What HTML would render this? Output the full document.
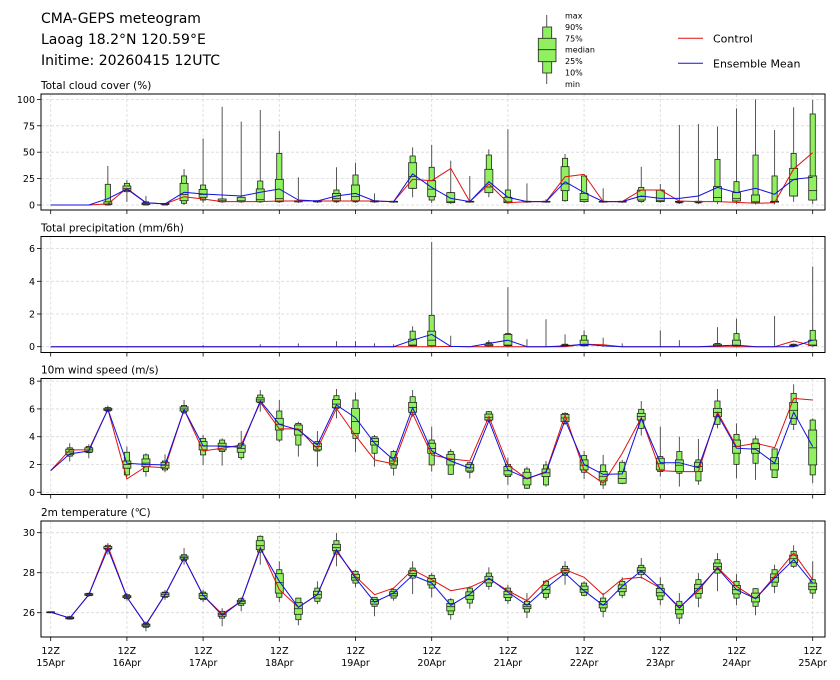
<!DOCTYPE html>
<html><head><meta charset="utf-8"><style>
body{margin:0;background:#fff;}
svg{display:block;font-family:"DejaVu Sans","Liberation Sans",sans-serif;}
</style></head><body>
<svg id="chart" width="840" height="680" viewBox="0 0 840 680" xmlns="http://www.w3.org/2000/svg">
<g font-size="14" fill="#000">
<text x="41" y="23">CMA-GEPS meteogram</text>
<text x="41" y="44">Laoag 18.2°N 120.59°E</text>
<text x="41" y="65">Initime: 20260415 12UTC</text>
</g>
<g>
<line x1="546.7" y1="15" x2="546.7" y2="84" stroke="#555" stroke-width="1"/>
<rect x="542.7" y="27" width="9" height="46" fill="#90f060" stroke="#222" stroke-width="0.8"/>
<rect x="538.3" y="38.3" width="17.7" height="23.4" fill="#90f060" stroke="#222" stroke-width="0.8"/>
<line x1="538.3" y1="49.7" x2="556" y2="49.7" stroke="#222" stroke-width="0.8"/>
<g font-size="8" fill="#000">
<text x="565" y="18.5">max</text><text x="565" y="29.9">90%</text><text x="565" y="41.3">75%</text>
<text x="565" y="52.7">median</text><text x="565" y="64.1">25%</text><text x="565" y="75.5">10%</text><text x="565" y="86.9">min</text>
</g></g>
<g font-size="11">
<line x1="678" y1="38.3" x2="703" y2="38.3" stroke="#e01010" stroke-width="1"/>
<text x="713" y="42.5">Control</text>
<line x1="678" y1="63.3" x2="703" y2="63.3" stroke="#1010e0" stroke-width="1"/>
<text x="713" y="67.5">Ensemble Mean</text>
</g>
<g id="panels"></g>
</svg>
<script>
const days = ["15Apr","16Apr","17Apr","18Apr","19Apr","20Apr","21Apr","22Apr","23Apr","24Apr","25Apr"];

const cloudCtrl=[0,0,0,1,15.8,2.2,1,7.9,5.7,3.2,3.2,3.2,3.8,3.8,3.8,3.8,3.8,3.8,3.2,24.3,23,34.7,3.2,19.9,2.2,3.2,3.2,26.8,29,3.2,3.2,14.2,14.2,3.8,3.2,3.2,2.5,1.6,2.2,34.1,49.6];
const cloudMean=[0,0,0,6,15.2,2.2,1,12,10.4,9.5,8.5,12,15.2,4.7,3.8,8.5,11,3.8,3.2,29.4,16.7,6.3,3.2,22.1,7.3,3.2,3.2,22.1,11.7,3.2,3.2,8.5,6.3,6.3,8.5,16.7,11.7,15.8,10.1,24.3,26.2];
const cloudMin=[0,0,0,0,3,0,0,0,2,2,2,2,2,2,2,2,2,2,2,7.3,2,1,2,7.3,1,2,2,3,2,2,2,2,2,1,1,1,1,0.5,0.5,3,1];
const cloudP10=[0,0,0,0,12.6,0,0,1.6,4.7,3,3,3,3,3,3,3,3,3,3,15.8,4.7,2.2,3,11.7,2.2,3,3,4.1,3.2,3,3,3.2,3.2,2,2,3.2,3.8,2.2,3,8.5,4.7];
const cloudP25=[0,0,0,0.5,13.6,0.5,0.5,4.1,7.3,3.2,3.2,3.2,3.2,3,3,4.1,4.1,3,3,15.8,7.9,2.2,3,11.7,2.2,3,3,13.6,3.2,3,3,4.7,3.2,3,3,3.2,3.8,2.2,3,8.5,4.7];
const cloudMed=[0,0,0,1,15.5,1.5,1,10,10,4,4,5,6,3.5,3.5,6,8,3.5,3.2,27,15,3,3.2,17,3,3.2,3.2,20,5,3.2,3.2,8,4,3.2,3.2,7,6,3,3.2,24,13.6];
const cloudP75=[0,0,0,3,18,2,1.5,20.5,14.8,5.7,7.3,15.2,24.3,4,4,11,18.9,4,3.5,40,23,11.7,3.5,33.8,7.3,3.5,3.5,36.3,11,3.5,3.5,14,14,3.5,3.5,17.4,11.7,9.5,3.5,34.7,27.5];
const cloudP90=[0,0,0,19.6,20.5,3,1.5,27.5,18.9,5.7,7.3,22.7,48.9,4,4,14.2,28.4,4,3.5,46.4,35.7,11.7,3.5,47.3,14.2,3.5,3.5,44.2,27.5,3.5,3.5,16.7,14.2,3.5,3.5,43.2,22.1,47.3,27.5,48.9,86.2];
const cloudMax=[0,0,0,37,23.7,8.5,2,34,63,93,79,90,70,26.2,4,35.7,40,11,3.5,54.6,56.8,42,27.5,52.7,71.7,20.5,5.5,48.3,27.5,15.8,3.5,36.3,19.9,75.8,76.7,74.2,91.5,100,71,92.5,99.4];

const precCtrl=[0,0,0,0,0,0,0,0,0,0,0,0,0,0,0,0,0,0,0,0,0,0.02,0,0,0,0,0,0,0.15,0.12,0,0,0,0,0,0,0,0,0,0.35,0.06];
const precMean=[0,0,0,0,0,0,0,0,0,0,0,0,0,0,0,0,0,0,0,0.4,0.75,0.02,0,0.2,0.4,0,0,0.05,0.15,0.05,0,0,0,0,0,0.05,0.1,0,0,0,0.4];
const precMin=[0,0,0,0,0,0,0,0,0,0,0,0,0,0,0,0,0,0,0,0,0,0,0,0,0,0,0,0,0,0,0,0,0,0,0,0,0,0,0,0,0];
const precP10=[0,0,0,0,0,0,0,0,0,0,0,0,0,0,0,0,0,0,0,0.06,0.06,0,0,0.06,0.06,0,0,0.06,0.06,0,0,0,0,0,0,0.06,0.06,0,0,0.06,0.06];
const precP25=[0,0,0,0,0,0,0,0,0,0,0,0,0,0,0,0,0,0,0,0.06,0.06,0,0,0.06,0.06,0,0,0.06,0.06,0,0,0,0,0,0,0.06,0.06,0,0,0.06,0.06];
const precMed=[0,0,0,0,0,0,0,0,0,0,0,0,0,0,0,0,0,0,0,0.1,0.4,0,0,0.06,0.1,0,0,0.06,0.1,0,0,0,0,0,0,0.06,0.06,0,0,0.06,0.1];
const precP75=[0,0,0,0,0,0,0,0,0,0,0,0,0,0,0,0,0,0,0,0.46,0.95,0,0,0.15,0.75,0,0,0.1,0.4,0,0,0,0,0,0,0.15,0.4,0,0,0.1,0.4];
const precP90=[0,0,0,0,0,0,0,0,0,0,0,0,0,0,0,0,0,0,0,0.95,1.92,0,0,0.25,0.8,0,0,0.15,0.67,0,0,0,0,0,0,0.2,0.8,0,0,0.15,1.0];
const precMax=[0,0,0,0,0,0,0,0,0.1,0,0,0.15,0,0.2,0,0.34,0.34,0.2,0.15,1.25,6.4,0.67,0,0.4,3.64,0.46,1.68,0.75,1.0,0.55,0.2,0,1.0,0.4,0,1.2,1.72,0,1.88,0.2,4.9];

const windCtrl=[1.56,3.05,3.05,5.97,0.96,1.85,1.77,5.95,2.97,3.17,3.4,6.47,4.56,4.56,3.12,6.04,4.08,2.33,2.04,5.68,2.69,2.4,2.25,5.44,1.97,0.96,1.49,5.56,1.6,0.65,2.8,5.37,1.56,1.49,1.49,5.76,3.29,3.53,3.21,6.76,6.64];
const windMean=[1.56,2.76,2.97,5.97,2.09,2.0,1.97,5.95,3.33,3.33,3.24,6.57,4.89,4.48,3.4,6.28,5.37,3.53,2.33,6.09,2.97,2.25,1.73,5.16,1.61,1.0,1.44,5.2,2.0,1.29,1.32,5.32,2.13,2.13,1.77,5.61,3.17,3.1,2.09,5.76,3.29];
const windMin=[1.56,2.21,2.45,5.76,1.13,1.13,1.44,5.61,1.97,1.92,2.33,5.8,3.6,2.57,1.85,5.32,2.88,1.85,1.2,5.44,1.49,1.25,1.0,5.08,0.53,0.24,0.41,4.84,0.96,0.24,0.58,4.08,1.13,0.41,0.53,4.6,1.0,0.89,1.06,4.48,0.65];
const windP10=[1.56,2.6,2.85,5.85,1.25,1.49,1.61,5.75,2.69,2.93,2.49,6.45,3.76,3.4,2.97,6.04,3.88,2.81,1.73,5.61,1.97,1.29,1.44,5.13,1.13,0.29,0.53,4.96,1.44,0.53,0.65,4.6,1.49,1.37,0.82,4.89,2.01,2.09,1.06,4.89,1.25];
const windP25=[1.56,2.7,2.9,5.9,1.73,1.85,1.73,5.85,3.05,3.05,2.88,6.5,4.48,4.12,3.05,6.09,4.24,3.4,1.97,5.76,2.81,1.97,1.53,5.2,1.25,0.53,1.13,5.08,1.61,0.82,0.65,5.2,1.61,1.49,1.49,5.44,2.81,2.81,1.61,5.32,1.97];
const windMed=[1.56,2.9,3.05,5.97,2.0,2.1,1.95,6.0,3.35,3.3,3.15,6.65,4.9,4.5,3.3,6.35,5.1,3.65,2.25,6.1,3.15,2.35,1.75,5.4,1.55,1.0,1.4,5.35,1.95,1.15,1.0,5.45,2.05,1.95,1.85,5.75,3.3,3.15,2.05,5.9,3.2];
const windP75=[1.56,3.1,3.2,6.05,2.25,2.4,2.16,6.15,3.65,3.53,3.4,6.8,5.32,4.84,3.53,6.67,6.04,3.88,2.49,6.47,3.53,2.73,2.01,5.63,1.85,1.44,1.68,5.61,2.33,1.49,1.49,5.68,2.45,2.33,2.16,6.04,3.76,3.53,2.49,6.47,4.48];
const windP90=[1.56,3.2,3.3,6.1,2.88,2.69,2.25,6.25,3.88,3.76,3.53,7.0,5.85,4.96,3.65,6.95,6.64,4.0,2.93,6.88,3.76,2.93,2.13,5.8,2.01,1.68,1.97,5.68,2.64,1.97,2.16,5.97,2.57,2.93,2.33,6.57,4.17,3.84,3.12,7.12,5.2];
const windMax=[1.56,3.53,3.45,6.24,3.29,2.81,2.73,6.64,4.12,3.88,4.41,7.36,6.64,5.08,4.41,7.43,7.19,4.12,3.05,7.36,4.72,3.12,2.16,5.85,2.49,1.85,2.25,5.76,2.97,2.69,2.33,6.57,4.72,4.0,3.84,7.43,4.96,4.08,3.12,7.77,5.32];

const tempCtrl=[26.03,25.73,26.9,29.32,26.78,25.4,26.9,28.73,26.87,25.93,26.57,29.27,27.15,26.27,26.9,29.07,27.82,26.9,27.23,28.15,27.65,27.1,27.27,27.7,27.1,26.6,27.57,28.15,27.77,26.9,27.68,27.77,27.23,26.27,27.1,28.27,27.32,26.7,27.82,28.98,27.65];
const tempMean=[26.03,25.73,26.9,29.2,26.78,25.4,26.9,28.73,26.87,25.87,26.57,29.2,27.57,26.27,26.9,29.15,27.73,26.53,26.98,27.87,27.48,26.37,26.93,27.73,27.03,26.37,27.23,27.98,27.1,26.37,27.32,28.1,27.23,26.23,27.2,28.23,27.15,26.7,27.73,28.65,27.48];
const tempMin=[26.0,25.65,26.8,28.9,26.6,25.07,26.65,28.4,26.53,25.32,26.07,28.4,26.53,25.37,26.43,28.32,27.27,25.82,26.6,26.93,26.77,25.65,26.2,27.15,26.43,25.73,26.65,27.4,26.82,25.77,26.73,27.7,26.37,25.43,26.27,27.07,26.37,25.87,26.98,28.23,26.7];
const tempP10=[26.0,25.68,26.85,29.13,26.7,25.27,26.77,28.6,26.65,25.73,26.37,29.03,26.77,25.65,26.57,28.93,27.48,26.32,26.73,27.73,27.23,25.9,26.48,27.32,26.6,26.03,26.77,27.87,26.87,26.07,26.87,27.9,26.65,25.73,26.73,27.98,26.73,26.32,27.32,28.32,26.98];
const tempP25=[26.01,25.7,26.87,29.19,26.75,25.32,26.81,28.68,26.71,25.82,26.45,29.15,26.98,25.92,26.73,29.1,27.63,26.43,26.84,27.86,27.39,26.09,26.67,27.49,26.76,26.2,26.97,28.0,27.02,26.24,27.05,28.02,26.84,25.94,26.96,28.15,26.94,26.54,27.53,28.5,27.15];
const tempMed=[26.03,25.73,26.9,29.22,26.8,25.38,26.9,28.75,26.85,25.9,26.55,29.35,27.5,26.2,26.9,29.25,27.75,26.55,26.95,27.95,27.55,26.3,26.85,27.65,26.9,26.3,27.15,28.1,27.15,26.4,27.2,28.12,27.0,26.15,27.2,28.3,27.15,26.75,27.75,28.7,27.3];
const tempP75=[26.04,25.78,26.95,29.31,26.85,25.43,26.99,28.83,26.97,25.98,26.62,29.6,27.95,26.5,27.07,29.42,27.92,26.66,27.05,28.1,27.71,26.46,27.04,27.82,27.07,26.4,27.37,28.2,27.33,26.56,27.39,28.25,27.21,26.36,27.42,28.48,27.36,26.98,27.94,28.88,27.48];
const tempP90=[26.05,25.8,26.97,29.37,26.9,25.48,27.03,28.9,27.03,26.07,26.7,29.82,28.15,26.73,27.23,29.6,28.07,26.77,27.15,28.23,27.87,26.65,27.23,27.98,27.23,26.57,27.57,28.32,27.48,26.73,27.57,28.37,27.4,26.57,27.65,28.65,27.57,27.2,28.15,29.07,27.65];
const tempMax=[26.05,25.85,27.0,29.48,26.98,25.57,27.15,29.23,27.15,26.23,26.77,29.87,28.57,26.73,27.57,29.98,28.15,26.77,27.23,28.57,27.98,26.73,27.32,28.27,27.4,26.98,27.65,28.57,27.57,26.98,27.77,28.73,27.77,26.98,27.98,28.98,27.93,27.23,28.4,29.37,28.57];

const cloudTicks=[0,25,50,75,100];
const precTicks=[0,2,4,6];
const windTicks=[0,2,4,6,8];
const tempTicks=[26,28,30];

const NS="http://www.w3.org/2000/svg";
const root=document.getElementById("panels");
const PX0=41,PX1=825;
function xOf(i){return 50.7+i*19.05;}
function mk(tag,attrs,parent){const e=document.createElementNS(NS,tag);for(const k in attrs)e.setAttribute(k,attrs[k]);parent.appendChild(e);return e;}

function panel(name,title,top,ymin,ymax,ticks,ctrl,mean,mn,p10,p25,med,p75,p90,mx,showX){
  const H=116;
  const y=v=>top+H-(v-ymin)/(ymax-ymin)*H;
  const g=mk("g",{},root);
  
  
  const t=mk("text",{x:41,y:top-5,"font-size":"10.5"},g);t.textContent=title;
  
  
  for(let d=0;d<days.length;d++){const x=xOf(d*4);
    mk("line",{x1:x,y1:top,x2:x,y2:top+H,stroke:"#d8d8d8","stroke-width":0.8,"stroke-dasharray":"3,2"},g);
    mk("line",{x1:x,y1:top+H,x2:x,y2:top+H+4,stroke:"#000","stroke-width":0.8},g);
    if(showX){const a=mk("text",{x:x,y:top+H+17,"font-size":"9.5","text-anchor":"middle"},g);a.textContent="12Z";
      
      
      const b=mk("text",{x:x,y:top+H+29,"font-size":"9.5","text-anchor":"middle"},g);b.textContent=days[d];
      
      }
  }
  ticks.forEach(v=>{const yy=y(v);
    mk("line",{x1:PX0,y1:yy,x2:PX1,y2:yy,stroke:"#d8d8d8","stroke-width":0.8,"stroke-dasharray":"3,2"},g);
    mk("line",{x1:PX0-4,y1:yy,x2:PX0,y2:yy,stroke:"#000","stroke-width":0.8},g);
    const tl=mk("text",{x:PX0-6,y:yy+3.5,"font-size":"9.5","text-anchor":"end"},g);tl.textContent=v;
    
    
  });
  for(let i=0;i<ctrl.length;i++){const x=xOf(i);
    const bg=mk("g",{},g);
    
    
    if(mx[i]-mn[i]>0){mk("line",{x1:x,y1:y(mx[i]),x2:x,y2:y(mn[i]),stroke:"#444","stroke-width":0.9},bg);}
    if(p90[i]-p10[i]>0){mk("rect",{x:x-2.6,y:y(p90[i]),width:5.2,height:Math.max(y(p10[i])-y(p90[i]),0.8),fill:"#90f060",stroke:"#222","stroke-width":0.8},bg);}
    if(p75[i]-p25[i]>0){mk("rect",{x:x-4,y:y(p75[i]),width:8,height:Math.max(y(p25[i])-y(p75[i]),0.8),fill:"#90f060",stroke:"#222","stroke-width":0.8},bg);}
    if(p90[i]-p10[i]>0){mk("line",{x1:x-4,y1:y(med[i]),x2:x+4,y2:y(med[i]),stroke:"#222","stroke-width":0.8},bg);}
  }
  const pts=a=>a.map((v,i)=>xOf(i).toFixed(1)+","+y(v).toFixed(1)).join(" ");
  const lc=mk("polyline",{points:pts(ctrl),fill:"none",stroke:"#e01010","stroke-width":1},g);
  
  
  const lm=mk("polyline",{points:pts(mean),fill:"none",stroke:"#1010e0","stroke-width":1},g);
  
  
  const fr=mk("rect",{x:PX0,y:top,width:PX1-PX0,height:H,fill:"none",stroke:"#000","stroke-width":1},g);
  
  
}
panel("cloud-cover","Total cloud cover (%)",94,-4.73,105.1,cloudTicks,cloudCtrl,cloudMean,cloudMin,cloudP10,cloudP25,cloudMed,cloudP75,cloudP90,cloudMax,false);
panel("precipitation","Total precipitation (mm/6h)",236.5,-0.355,6.74,precTicks,precCtrl,precMean,precMin,precP10,precP25,precMed,precP75,precP90,precMax,false);
panel("wind-speed","10m wind speed (m/s)",378.5,-0.16,8.19,windTicks,windCtrl,windMean,windMin,windP10,windP25,windMed,windP75,windP90,windMax,false);
panel("temperature","2m temperature (\u2103)",521,24.785,30.585,tempTicks,tempCtrl,tempMean,tempMin,tempP10,tempP25,tempMed,tempP75,tempP90,tempMax,true);
</script>
</body></html>
